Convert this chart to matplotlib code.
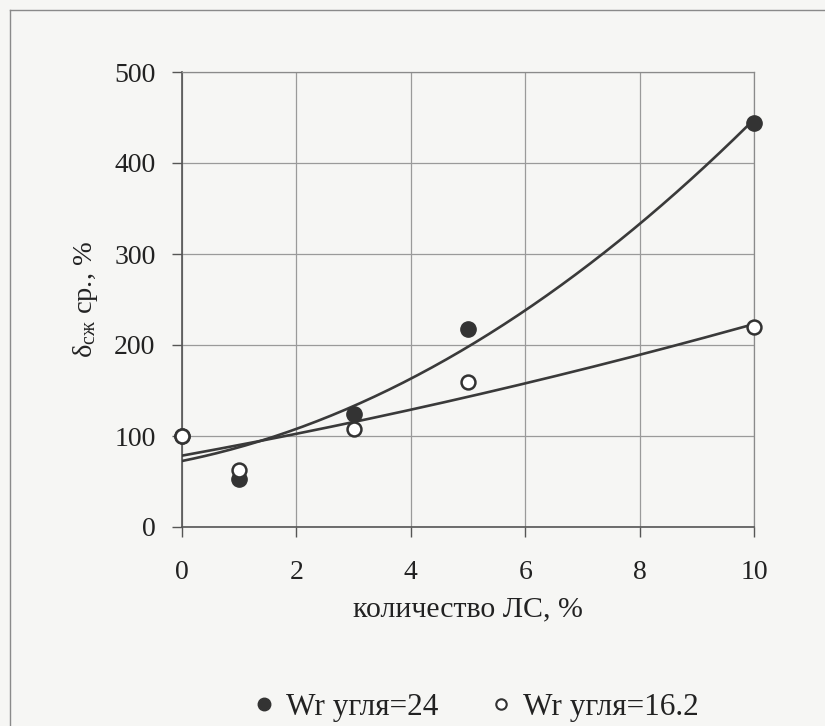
import numpy as np
import matplotlib.pyplot as plt
from matplotlib.lines import Line2D

plt.rcParams['font.family'] = ['Liberation Serif', 'DejaVu Serif']
plt.rcParams['mathtext.fontset'] = 'custom'
plt.rcParams['mathtext.rm'] = 'Liberation Serif'
plt.rcParams['mathtext.it'] = 'Liberation Serif:italic'

# Данные
ls_pct = [0, 1, 3, 5, 10]
wr24 = [100, 53, 124, 218, 444]      # Wr угля = 24 (точка при 0 скрыта под белым кружком)
wr16 = [100, 63, 108, 159, 220]      # Wr угля = 16.2

x_ticks = [0, 2, 4, 6, 8, 10]
y_ticks = [0, 100, 200, 300, 400, 500]

bg = '#f6f6f4'
line_col = '#3a3a3a'

fig = plt.figure(figsize=(8.25, 7.26), dpi=100, facecolor=bg)
ax = fig.add_axes([182 / 825, 1 - 527 / 726, 572 / 825, 455 / 726])
ax.set_facecolor(bg)

# полиномиальные линии тренда 2-й степени
xx = np.linspace(0, 10, 200)
ax.plot(xx, np.polyval(np.polyfit(ls_pct, wr24, 2), xx), color=line_col, lw=1.9, zorder=3)
ax.plot(xx, np.polyval(np.polyfit(ls_pct, wr16, 2), xx), color=line_col, lw=1.9, zorder=3)

ax.plot(ls_pct, wr24, 'o', ms=11, color='#333333', mec='#333333', zorder=4, clip_on=False)
ax.plot(ls_pct, wr16, 'o', ms=10, mfc='white', mec='#333333', mew=1.8, zorder=5, clip_on=False)

ax.set_xlim(0, 10)
ax.set_ylim(0, 500)
ax.set_xticks(x_ticks)
ax.set_yticks(y_ticks)
ax.grid(True, color='#9a9a9a', lw=0.9)
ax.set_axisbelow(True)
for s in ['top', 'right']:
    ax.spines[s].set_color('#8a8a8a')
    ax.spines[s].set_linewidth(0.9)
for s in ['left', 'bottom']:
    ax.spines[s].set_color('#555555')
    ax.spines[s].set_linewidth(1.2)

ax.tick_params(axis='both', direction='out', length=7, width=1.0, color='#555555',
               labelsize=20, labelcolor='#222222')
ax.tick_params(axis='y', pad=12)
ax.tick_params(axis='x', pad=17)

ax.set_xlabel('количество ЛС, %', fontsize=21.5, color='#222222', labelpad=8)
ax.set_ylabel(r'δ$_{\mathrm{сж}}$ ср., %', fontsize=20.5, color='#222222', labelpad=10)

handles = [
    Line2D([], [], ls='none', marker='o', ms=9, color='#333333'),
    Line2D([], [], ls='none', marker='o', ms=7.5, mfc='white', mec='#333333', mew=1.5),
]
fig.legend(handles, ['Wr угля=24', 'Wr угля=16.2'], loc='center', ncol=2,
           bbox_to_anchor=(477 / 825, 1 - 707 / 726), frameon=False,
           fontsize=22.5, handlelength=0.6, handletextpad=0.4, columnspacing=1.7,
           labelcolor='#222222')

# рамка области диаграммы
fig.add_artist(Line2D([10 / 825, 10 / 825], [0, 1 - 10 / 726], color='#8a8a8a', lw=1.0))
fig.add_artist(Line2D([10 / 825, 1], [1 - 10 / 726, 1 - 10 / 726], color='#8a8a8a', lw=1.0))

fig.savefig('out.png', dpi=100, facecolor=bg)
